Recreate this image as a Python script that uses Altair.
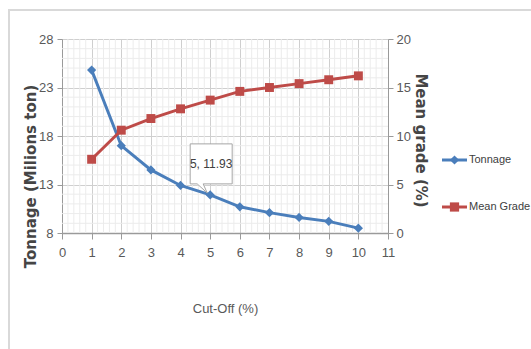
import altair as alt
import pandas as pd

cutoff = [1, 2, 3, 4, 5, 6, 7, 8, 9, 10]
tonnage = [24.8, 17.0, 14.5, 12.9, 11.93, 10.7, 10.1, 9.6, 9.2, 8.5]
grade = [7.6, 10.6, 11.8, 12.8, 13.7, 14.6, 15.0, 15.4, 15.8, 16.2]
series_names = ["Tonnage", "Mean Grade"]
colors = ["#4a7ebb", "#be4b48"]
x_ticks = list(range(0, 12))
y_left_ticks = [8, 13, 18, 23, 28]
y_right_ticks = [0, 5, 10, 15, 20]
minor_x = [round(i * 0.2, 1) for i in range(0, 56) if i % 5 != 0]
minor_y = [v for v in range(8, 29) if (v - 8) % 5 != 0]
callout_x = [5]
callout_y = [11.93]
callout_label = ["5, 11.93"]

FONT = "Liberation Sans"
TITLE_FONT = "DejaVu Sans"

dfT = pd.DataFrame({"cutoff": cutoff, "value": tonnage, "series": "Tonnage"})
dfG = pd.DataFrame({"cutoff": cutoff, "value": grade, "series": "Mean Grade"})
dfMX = pd.DataFrame({"cutoff": minor_x})
dfMY = pd.DataFrame({"value": minor_y})
dfC = pd.DataFrame({"cutoff": callout_x, "value": callout_y, "label": callout_label})
dfL = pd.DataFrame({"series": series_names})

xscale = alt.Scale(domain=[0, 11], nice=False)
xaxis = alt.Axis(values=x_ticks, tickCount=12, title="Cut-Off (%)", grid=True, gridColor="#cfcfcf",
                 domainColor="#9a9a9a", domainWidth=1.5, tickColor="#9a9a9a", tickSize=6,
                 labelFont=FONT, labelFontSize=13, labelColor="#595959", labelPadding=7,
                 labelOverlap=False, labelFlush=False, labelBound=False, labelSeparation=0,
                 titleFont=FONT, titleFontSize=13, titleFontWeight="normal",
                 titleColor="#595959", titlePadding=43)
yLscale = alt.Scale(domain=[8, 28], nice=False)
yLaxis = alt.Axis(values=y_left_ticks, tickCount=5, title="Tonnage (Milions ton)", grid=True,
                  gridColor="#cfcfcf", domainColor="#9a9a9a", tickColor="#9a9a9a",
                  tickSize=5, labelFont=FONT, labelFontSize=13, labelColor="#595959",
                  labelPadding=4, labelOverlap=False, labelFlush=False,
                  titleFont=TITLE_FONT, titleFontSize=15,
                  titleFontWeight="bold", titleColor="#454545",
                  titleX=-32, titleY=137, titleBaseline="middle")
yRscale = alt.Scale(domain=[0, 20], nice=False)
yRaxis = alt.Axis(values=y_right_ticks, tickCount=5, title="Mean grade (%)", orient="right", grid=False,
                  domainColor="#9a9a9a", tickColor="#9a9a9a", tickSize=5,
                  labelFont=FONT, labelFontSize=13, labelColor="#595959", labelPadding=3,
                  labelOverlap=False, labelFlush=False,
                  titleFont=TITLE_FONT, titleFontSize=15, titleFontWeight="bold",
                  titleColor="#454545", titlePadding=2, titleY=101)


def X():
    return alt.X("cutoff:Q", scale=xscale, axis=xaxis)


def YL():
    return alt.Y("value:Q", scale=yLscale, axis=yLaxis)


def YR():
    return alt.Y("value:Q", scale=yRscale, axis=yRaxis)


color = alt.Color("series:N", scale=alt.Scale(domain=series_names, range=colors), legend=None)
shape = alt.Shape("series:N", scale=alt.Scale(domain=series_names, range=["diamond", "square"]), legend=None)

frame = alt.Chart(pd.DataFrame({"a": [0]})).mark_rect(
    fill=None, stroke="#d9d9d9", strokeWidth=2, clip=False
).encode(x=alt.value(-53), x2=alt.value(480), y=alt.value(-29), y2=alt.value(320))

minor_v = alt.Chart(dfMX).mark_rule(color="#ececec", strokeWidth=1).encode(x=X())
minor_h = alt.Chart(dfMY).mark_rule(color="#ececec", strokeWidth=1).encode(y=YL())

t_line = alt.Chart(dfT).mark_line(strokeWidth=3).encode(x=X(), y=YL(), color=color)
t_pts = alt.Chart(dfT).mark_point(filled=True, size=85, opacity=1).encode(
    x=X(), y=YL(), color=color, shape=shape)

callout_path = "M-20,-51H22V-11H-7L-3,-2L-13,-11H-20Z"
c_box = alt.Chart(dfC).mark_point(shape=callout_path, size=4, filled=False, fill="white",
                                 stroke="#a6a6a6", strokeWidth=1, opacity=1).encode(x=X(), y=YL())
c_text = alt.Chart(dfC).mark_text(font=FONT, fontSize=12, color="#404040", dy=-31, dx=1).encode(
    x=X(), y=YL(), text="label:N")

g_line = alt.Chart(dfG).mark_line(strokeWidth=3).encode(x=X(), y=YR(), color=color)
g_pts = alt.Chart(dfG).mark_point(filled=True, size=80, opacity=1).encode(
    x=X(), y=YR(), color=color, shape=shape)

# legend drawn from the series list
ly = alt.Y("series:N", scale=alt.Scale(type="point", domain=series_names, range=[121, 168], padding=0), axis=None)
leg_rule = alt.Chart(dfL).mark_rule(strokeWidth=3, clip=False).encode(
    x=alt.value(380), x2=alt.value(405), y=ly, color=color)
leg_pts = alt.Chart(dfL).mark_point(filled=True, size=85, opacity=1, clip=False).encode(
    x=alt.value(392.5), y=ly, color=color, shape=shape)
leg_txt = alt.Chart(dfL).mark_text(align="left", baseline="middle", font=FONT, fontSize=11,
                                   color="#404040", clip=False).encode(
    x=alt.value(407), y=ly, text="series:N")
legend_layer = alt.layer(leg_rule, leg_pts, leg_txt)

left = alt.layer(frame, minor_v, minor_h, t_line, t_pts, c_box, c_text)
right = alt.layer(g_line, g_pts)

chart = alt.layer(left, right, legend_layer).resolve_scale(y="independent").properties(
    width=326, height=194,
    autosize=alt.AutoSizeParams(type="none"),
    padding={"left": 62, "top": 39, "right": 143, "bottom": 116},
    background="white",
).configure_view(stroke=None).configure_axis(labelOverlap=False, labelSeparation=0)

chart.save("out.html", embed_options={"renderer": "svg", "actions": False})
